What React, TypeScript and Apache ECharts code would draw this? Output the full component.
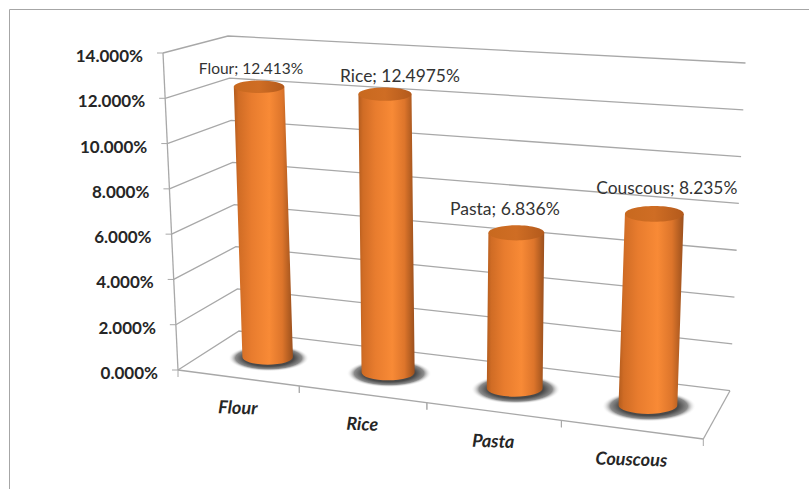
import React, { useEffect, useRef } from "react";
import * as echarts from "echarts";

const categories = ["Flour", "Rice", "Pasta", "Couscous"];
const shareValues = [12.413, 12.4975, 6.836, 8.235];
const axisTicks = [0, 2, 4, 6, 8, 10, 12, 14];

// Each value label's shift from the centre of its cylinder's lid, and its type size.
const labelShift = [
  [-8, -19],
  [15, -18.5],
  [-11.5, -24.5],
  [12.5, -26],
];
const labelSize = [15.5, 17.4, 17.6, 17.4];

type Pt = [number, number];

// Corners of the chart box: floor, then the plane at the axis maximum.
const floorQuad: Pt[] = [[178, 370], [703.3, 439], [730, 390.7], [239, 331]];
const ceilQuad: Pt[] = [[163, 53], [718.5, 87], [745.5, 63], [228, 36]];

// Uprights converge on this point far below the chart.
const verticalVanish: Pt = [454, 6217];
// Pixel height of the full value range at the first and last end of the floor.
const barRangeNear = 301.5;
const barRangeGrowth = 27;

const GRID = "#a8a8a8";
const TEXT = "#262626";
const FONT = "Lato, 'Open Sans', sans-serif";

// Homography from the unit square onto a quadrilateral.
function quadMap(q: Pt[]) {
  const [[x0, y0], [x1, y1], [x2, y2], [x3, y3]] = q;
  const sx = x0 - x1 + x2 - x3;
  const sy = y0 - y1 + y2 - y3;
  const dx1 = x1 - x2;
  const dy1 = y1 - y2;
  const dx2 = x3 - x2;
  const dy2 = y3 - y2;
  const den = dx1 * dy2 - dx2 * dy1;
  const g = (sx * dy2 - dx2 * sy) / den;
  const h = (dx1 * sy - sx * dy1) / den;
  const a = x1 - x0 + g * x1;
  const b = x3 - x0 + h * x3;
  const d = y1 - y0 + g * y1;
  const e = y3 - y0 + h * y3;
  return (u: number, v: number): Pt => {
    const w = g * u + h * v + 1;
    return [(a * u + b * v + x0) / w, (d * u + e * v + y0) / w];
  };
}

const floorMap = quadMap(floorQuad);
const ceilMap = quadMap(ceilQuad);

// along: 0..1 over the categories, depth: 0 front..1 back, up: 0..1 over the value axis.
function project(along: number, depth: number, up: number): Pt {
  const a = floorMap(along, depth);
  const b = ceilMap(along, depth);
  return [a[0] + (b[0] - a[0]) * up, a[1] + (b[1] - a[1]) * up];
}

// Point on a cylinder's axis, rising from its floor position and away from the vanishing point.
function axisPoint(along: number, up: number): Pt {
  const base = floorMap(along, 0.5);
  const rise = (barRangeNear + barRangeGrowth * along) * up;
  const lean = (verticalVanish[0] - base[0]) / (verticalVanish[1] - base[1]);
  return [base[0] - lean * rise, base[1] - rise];
}

// Reads the flat grid position the axes give for a datum as box fractions.
function fractions(params: any, pt: number[]) {
  const r = params.coordSys;
  return {
    along: (pt[0] - r.x) / r.width,
    up: (r.y + r.height - pt[1]) / r.height,
    band: r.width / categories.length,
    width: r.width,
  };
}

const seg = (a: Pt, b: Pt, lineWidth = 1.3) => ({
  type: "line",
  shape: { x1: a[0], y1: a[1], x2: b[0], y2: b[1] },
  style: { stroke: GRID, lineWidth },
});

function renderWall(params: any, api: any) {
  const tick = api.value(1);
  const { up } = fractions(params, api.coord([0, tick]));
  const corner = project(0, 0, up);
  const children: any[] = [
    {
      type: "polyline",
      shape: { points: [corner, project(0, 1, up), project(1, 1, up)] },
      style: { stroke: GRID, lineWidth: 1.3, fill: "none" },
    },
    seg([corner[0] - 6, corner[1]], corner, 1),
    {
      type: "text",
      style: {
        x: corner[0] - 20,
        y: corner[1] + 2.5,
        text: tick.toFixed(3) + "%",
        fill: TEXT,
        font: `bold 17px ${FONT}`,
        align: "right",
        verticalAlign: "middle",
      },
    },
  ];
  if (tick === 0) {
    children.push(seg(project(0, 0, 0), project(0, 0, 1)));
    children.push(seg(project(0, 0, 0), project(1, 0, 0)));
    children.push(seg(project(1, 0, 0), project(1, 1, 0)));
  }
  return { type: "group", children };
}

function renderCategory(params: any, api: any) {
  const i = api.value(0);
  const f = fractions(params, api.coord([i, 0]));
  const half = f.band / 2 / f.width;
  const tickAt = (along: number) => {
    const p = project(along, 0, 0);
    return seg(p, [p[0], p[1] + 7], 1);
  };
  const mid = project(f.along, 0, 0);
  return {
    type: "group",
    children: [
      tickAt(f.along - half),
      tickAt(f.along + half),
      {
        type: "text",
        x: mid[0],
        y: mid[1] + 29,
        rotation: -0.03,
        style: {
          x: 0,
          y: 0,
          text: categories[i],
          fill: TEXT,
          font: `italic bold 18px ${FONT}`,
          align: "center",
          verticalAlign: "middle",
        },
      },
    ],
  };
}

function renderCylinder(params: any, api: any) {
  const i = api.value(0);
  const value = api.value(1);
  const f = fractions(params, api.coord([i, value]));
  const halfWidth = (0.215 * f.band) / f.width;

  const base = axisPoint(f.along, 0);
  const top = axisPoint(f.along, f.up);
  const rx = (floorMap(f.along + halfWidth, 0.5)[0] - floorMap(f.along - halfWidth, 0.5)[0]) / 2;
  const ryBase = rx * 0.3;
  const ryTop = rx * (0.3 - 0.06 * f.up);

  const bodyPath =
    `M${top[0] - rx} ${top[1]}` +
    `L${base[0] - rx} ${base[1]}` +
    `A${rx} ${ryBase} 0 0 0 ${base[0] + rx} ${base[1]}` +
    `L${top[0] + rx} ${top[1]}Z`;

  const shift = labelShift[i];
  return {
    type: "group",
    children: [
      {
        type: "ellipse",
        shape: { cx: base[0] + 1, cy: base[1] + 1, rx: rx * 1.6, ry: ryBase * 1.75 },
        style: {
          fill: new echarts.graphic.RadialGradient(0.5, 0.5, 0.5, [
            { offset: 0, color: "#3a3a3a" },
            { offset: 0.62, color: "#4a4a4a" },
            { offset: 0.82, color: "#8c8c8c" },
            { offset: 1, color: "rgba(255,255,255,0)" },
          ]),
        },
      },
      {
        type: "path",
        shape: { pathData: bodyPath },
        style: {
          fill: new echarts.graphic.LinearGradient(0, 0, 1, 0, [
            { offset: 0, color: "#b35c1e" },
            { offset: 0.08, color: "#d06c25" },
            { offset: 0.3, color: "#e87c2e" },
            { offset: 0.6, color: "#f88a36" },
            { offset: 0.82, color: "#dd752b" },
            { offset: 0.95, color: "#ad5a20" },
            { offset: 1, color: "#9a5020" },
          ]),
        },
      },
      {
        type: "ellipse",
        shape: { cx: top[0], cy: top[1], rx, ry: ryTop },
        style: {
          fill: new echarts.graphic.LinearGradient(0, 0, 1, 0, [
            { offset: 0, color: "#c8691f" },
            { offset: 0.5, color: "#cf6d24" },
            { offset: 1, color: "#b35a1c" },
          ]),
        },
      },
      {
        type: "text",
        style: {
          x: top[0] + shift[0],
          y: top[1] + shift[1],
          text: `${categories[i]}; ${value}%`,
          fill: "#333333",
          font: `${labelSize[i]}px ${FONT}`,
          align: "center",
          verticalAlign: "middle",
        },
      },
    ],
  };
}

export default function App() {
  const ref = useRef<HTMLDivElement>(null);

  useEffect(() => {
    document.body.style.margin = "0";
    const chart = echarts.init(ref.current!, undefined, { renderer: "svg" });
    chart.setOption({
      animation: false,
      backgroundColor: "#ffffff",
      grid: { left: 100, right: 100, top: 100, bottom: 100 },
      xAxis: { type: "category", data: categories, show: false },
      yAxis: { type: "value", min: 0, max: 14, interval: 2, show: false },
      graphic: [
        { type: "line", shape: { x1: 9.5, y1: 9.5, x2: 809, y2: 9.5 }, style: { stroke: "#a6a6a6", lineWidth: 1 } },
        { type: "line", shape: { x1: 9.5, y1: 9.5, x2: 9.5, y2: 489 }, style: { stroke: "#a6a6a6", lineWidth: 1 } },
      ],
      series: [
        {
          type: "custom",
          name: "Walls",
          coordinateSystem: "cartesian2d",
          encode: { x: 0, y: 1 },
          data: axisTicks.map((t) => [0, t]),
          renderItem: renderWall,
          z: 1,
        },
        {
          type: "custom",
          name: "Categories",
          coordinateSystem: "cartesian2d",
          encode: { x: 0, y: 1 },
          data: categories.map((_, i) => [i, 0]),
          renderItem: renderCategory,
          z: 2,
        },
        {
          type: "custom",
          name: "Share",
          coordinateSystem: "cartesian2d",
          encode: { x: 0, y: 1 },
          data: shareValues.map((v, i) => [i, v]),
          renderItem: renderCylinder,
          z: 3,
        },
      ],
    });
    return () => chart.dispose();
  }, []);

  return <div ref={ref} style={{ position: "absolute", left: 0, top: 0, width: 809, height: 489 }} />;
}
